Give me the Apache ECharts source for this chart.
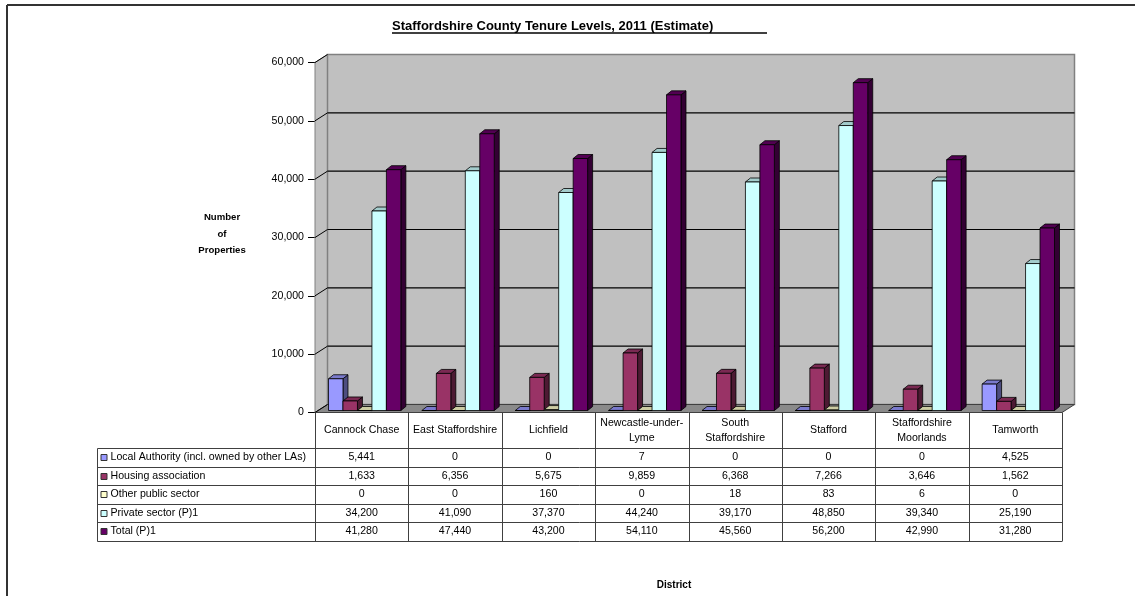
<!DOCTYPE html>
<html><head><meta charset="utf-8">
<script src="https://cdn.jsdelivr.net/npm/echarts@6/dist/echarts.min.js"></script>
<style>html,body{margin:0;padding:0;background:#fff}#c{width:1135px;height:596px}</style>
</head><body><div id="c"></div>
<script>
const categories = ['Cannock Chase','East Staffordshire','Lichfield','Newcastle-under-\nLyme','South\nStaffordshire','Stafford','Staffordshire\nMoorlands','Tamworth'];
const seriesNames = ['Local Authority (incl. owned by other LAs)','Housing association','Other public sector','Private sector (P)1','Total (P)1'];
const localAuthority = [5441,0,0,7,0,0,0,4525];
const housingAssociation = [1633,6356,5675,9859,6368,7266,3646,1562];
const otherPublic = [0,0,160,0,18,83,6,0];
const privateSector = [34200,41090,37370,44240,39170,48850,39340,25190];
const totalP = [41280,47440,43200,54110,45560,56200,42990,31280];
const seriesValues = [localAuthority, housingAssociation, otherPublic, privateSector, totalP];
const yMin = 0, yMax = 60000, yStep = 10000;

const FONT = '"Liberation Sans", Arial, sans-serif';
const frontCol = ['#9999ff','#993366','#ffffcc','#ccffff','#660066'];
const sideCol  = ['#4d4d80','#4d1a33','#80806a','#668080','#330033'];
const topCol   = ['#7a7acc','#7a2952','#cccca3','#a3cccc','#520052'];
const WALL = [12.5, -8];   // back wall depth offset
const BAR_OFF = [3, -2];   // bar front-face offset
const BAR_D = [5, -4];     // bar depth
const nCat = categories.length;

function fmt(v){ return v.toLocaleString('en-US'); }

function frameRender(params, api){
  const ch = [];
  const p = (x,v)=>api.coord([x,v]);
  const b = (x,v)=>{const q=p(x,v);return [q[0]+WALL[0], q[1]+WALL[1]];};
  ch.push({type:'polygon', shape:{points:[p(0,yMin),p(0,yMax),b(0,yMax),b(0,yMin)]}, style:{fill:'#c0c0c0', stroke:'#808080', lineWidth:1}});
  ch.push({type:'polygon', shape:{points:[b(0,yMax),b(nCat,yMax),b(nCat,yMin),b(0,yMin)]}, style:{fill:'#c0c0c0', stroke:'#808080', lineWidth:1.5}});
  ch.push({type:'polygon', shape:{points:[p(0,yMin),p(nCat,yMin),b(nCat,yMin),b(0,yMin)]}, style:{fill:'#8a8a8a', stroke:'#404040', lineWidth:1}});
  for(let v=yMin; v<=yMax; v+=yStep){
    const a=p(0,v), c=b(0,v), d=b(nCat,v);
    if(v>yMin && v<yMax) ch.push({type:'line', shape:{x1:c[0],y1:c[1],x2:d[0],y2:d[1]}, style:{stroke:'#000', lineWidth:1.2}});
    ch.push({type:'line', shape:{x1:a[0],y1:a[1],x2:c[0],y2:c[1]}, style:{stroke:'#000', lineWidth:1}});
  }
  return {type:'group', children:ch};
}

function makeBarRender(s){
  return function(params, api){
    const i = api.value(0), v = api.value(1);
    const band = api.size([1,0])[0];
    const bw = band*0.155;
    const cx = api.coord([i+0.5, 0])[0];
    const xL = cx - 2.5*bw + s*bw + BAR_OFF[0];
    const xR = xL + bw;
    const yB = api.coord([i+0.5, 0])[1] + BAR_OFF[1];
    const yT = api.coord([i+0.5, v])[1] + BAR_OFF[1];
    const dx = BAR_D[0], dy = BAR_D[1];
    const st = {stroke:'#000', lineWidth:0.8, lineJoin:'round'};
    return {type:'group', children:[
      {type:'polygon', shape:{points:[[xR,yB],[xR,yT],[xR+dx,yT+dy],[xR+dx,yB+dy]]}, style:Object.assign({fill:sideCol[s]},st)},
      {type:'polygon', shape:{points:[[xL,yT],[xR,yT],[xR+dx,yT+dy],[xL+dx,yT+dy]]}, style:Object.assign({fill:topCol[s]},st)},
      {type:'rect', shape:{x:xL, y:yT, width:bw, height:Math.max(yB-yT,0)}, style:Object.assign({fill:frontCol[s]},st)}
    ]};
  };
}

function tableRender(params, api){
  const ch = [];
  const o = api.coord([0,yMin]);
  const y0 = o[1];
  const xEnd = api.coord([nCat,yMin])[0];
  const left = 97.5;
  const hy = y0 + 35.5;
  const rowH = 18.5;
  const rows = seriesNames.length;
  const TF = '10.6px '+FONT;
  const lineSt = {stroke:'#404040', lineWidth:1};
  for(let r=0;r<=rows;r++){
    const y = Math.round(hy + r*rowH)+0.5;
    ch.push({type:'line', shape:{x1:left,y1:y,x2:xEnd,y2:y}, style:lineSt});
  }
  const yBot = Math.round(hy + rows*rowH)+0.5;
  ch.push({type:'line', shape:{x1:left,y1:Math.round(hy)+0.5,x2:left,y2:yBot}, style:lineSt});
  for(let k=0;k<=nCat;k++){
    const x = Math.round(api.coord([k,yMin])[0])+0.5;
    ch.push({type:'line', shape:{x1:x,y1:y0,x2:x,y2:yBot}, style:lineSt});
  }
  for(let k=0;k<nCat;k++){
    const xm = (api.coord([k,yMin])[0]+api.coord([k+1,yMin])[0])/2;
    ch.push({type:'text', style:{text:categories[k], x:xm, y:(y0+hy)/2, align:'center', verticalAlign:'middle', font:TF, fill:'#000', lineHeight:15}});
    for(let r=0;r<rows;r++){
      const ym = hy + r*rowH + rowH/2;
      ch.push({type:'text', style:{text:fmt(seriesValues[r][k]), x:xm, y:ym, align:'center', verticalAlign:'middle', font:TF, fill:'#000'}});
    }
  }
  for(let r=0;r<rows;r++){
    const ym = hy + r*rowH + rowH/2;
    ch.push({type:'rect', shape:{x:left+3.5, y:Math.round(ym-3)+0.5, width:6, height:6}, style:{fill:frontCol[r], stroke:'#333', lineWidth:1}});
    ch.push({type:'text', style:{text:seriesNames[r], x:left+13, y:ym, align:'left', verticalAlign:'middle', font:TF, fill:'#000'}});
  }
  return {type:'group', children:ch};
}

const series = [
  {type:'custom', name:'frame', renderItem:frameRender, data:[[0,0]], clip:false, silent:true, z:1},
];
seriesValues.forEach((vals,s)=>{
  series.push({type:'custom', name:seriesNames[s], renderItem:makeBarRender(s), clip:false, z:2,
    data: vals.map((v,i)=>[i,v])});
});
series.push({type:'custom', name:'table', renderItem:tableRender, data:[[0,0]], clip:false, silent:true, z:3});

const chart = echarts.init(document.getElementById('c'), null, {renderer:'canvas'});
chart.setOption({
  animation:false,
  backgroundColor:'#fff',
  grid:{left:315, top:62.5, width:747, height:350, containLabel:false},
  xAxis:{type:'value', min:0, max:nCat, show:false},
  yAxis:{type:'value', min:yMin, max:yMax, interval:yStep,
    axisLine:{show:true, lineStyle:{color:'#000', width:1}},
    axisTick:{show:true, length:7, lineStyle:{color:'#000'}},
    splitLine:{show:false},
    axisLabel:{color:'#000', fontSize:10.6, fontFamily:FONT, margin:11, formatter:v=>fmt(v)}},
  graphic:[
    {type:'line', shape:{x1:7,y1:5,x2:1135,y2:5}, style:{stroke:'#333', lineWidth:2}},
    {type:'line', shape:{x1:7,y1:5,x2:7,y2:596}, style:{stroke:'#333', lineWidth:2}},
    {type:'text', style:{text:'Staffordshire County Tenure Levels, 2011 (Estimate)', x:392, y:26, verticalAlign:'middle', font:'bold 13px '+FONT, fill:'#000'}},
    {type:'line', shape:{x1:392,y1:33,x2:767,y2:33}, style:{stroke:'#000', lineWidth:1.4}},
    {type:'text', style:{text:'Number\nof\nProperties', x:222, y:234, align:'center', verticalAlign:'middle', font:'bold 9.6px '+FONT, fill:'#000', lineHeight:16.5}},
    {type:'text', style:{text:'District', x:674, y:585, align:'center', verticalAlign:'middle', font:'bold 10px '+FONT, fill:'#000'}}
  ],
  series:series
});
</script>
</body></html>
